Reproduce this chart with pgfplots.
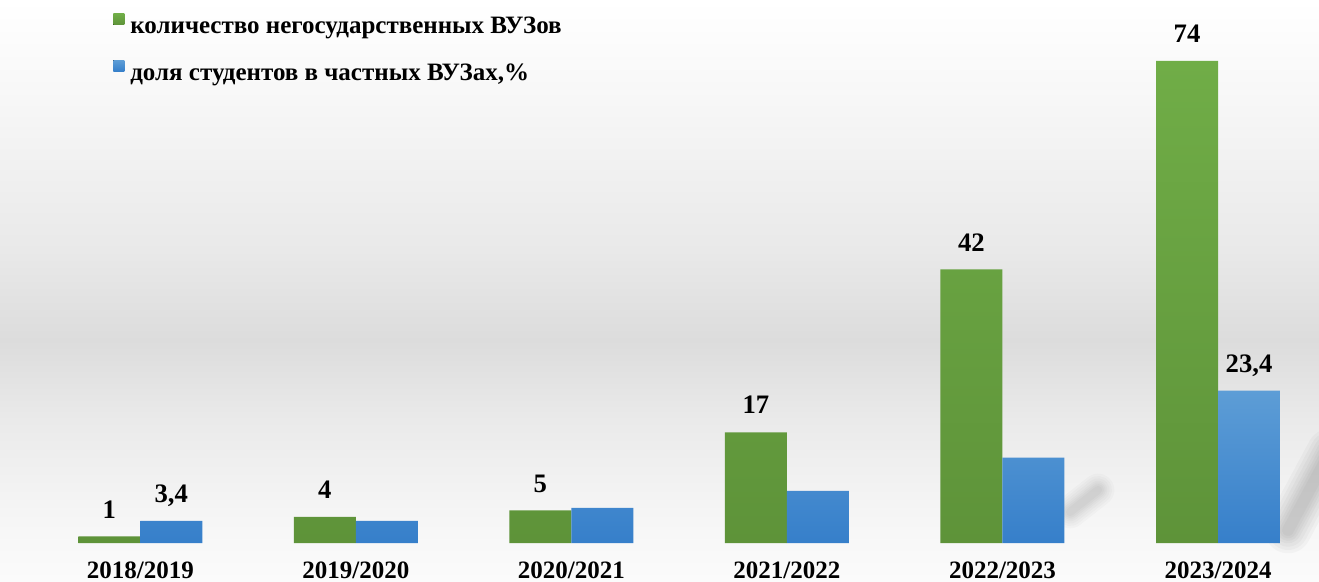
\documentclass[border=0pt]{standalone}
\usepackage{pgfplots}
\pgfplotsset{compat=1.18}
\usepackage{fontspec}
\setmainfont{Liberation Serif}
\definecolor{gtop}{RGB}{112,173,71}
\definecolor{gbot}{RGB}{94,147,57}
\definecolor{btop}{RGB}{93,157,214}
\definecolor{bbot}{RGB}{54,127,202}
\definecolor{bgA}{RGB}{255,255,255}
\definecolor{bgB}{RGB}{247,247,247}
\definecolor{bgC}{RGB}{233,233,233}
\definecolor{bgD}{RGB}{220,220,220}
\definecolor{bgE}{RGB}{234,234,234}
\definecolor{bgF}{RGB}{246,246,246}
\definecolor{bgG}{RGB}{251,251,251}
\begin{document}
\begin{tikzpicture}
\begin{scope}[xshift=-6.6pt,yshift=325.8pt,x=0.6pt,y=-0.6pt]
\shade[top color=bgA,bottom color=bgB] (0,0) rectangle (1319,100.5);
\shade[top color=bgB,bottom color=bgC] (0,100) rectangle (1319,250.5);
\shade[top color=bgC,bottom color=bgD] (0,250) rectangle (1319,340.5);
\shade[top color=bgD,bottom color=bgE] (0,340) rectangle (1319,420.5);
\shade[top color=bgE,bottom color=bgF] (0,420) rectangle (1319,520.5);
\shade[top color=bgF,bottom color=bgG] (0,520) rectangle (1319,581);
% soft shadow streaks
\foreach \w in {28pt,24pt,20pt,16pt,13pt,10pt,7pt}{
  \draw[line width=\w, black, opacity=0.026, line cap=round] (1288,530) -- (1330,452);
  \draw[line width=0.7*\w, black, opacity=0.02, line cap=round] (1070,512) -- (1098,490);
}
\end{scope}
\begin{axis}[
  scale only axis, width=782.4pt, height=325.8pt,
  xmin=-0.6, xmax=5.45, ymin=0, ymax=83.36,
  axis line style={draw=none}, tick style={draw=none},
  ytick=\empty, xtick={0,...,5},
  xticklabels={2018/2019,2019/2020,2020/2021,2021/2022,2022/2023,2023/2024},
  xticklabel style={font=\fontsize{15}{15}\selectfont\bfseries, anchor=base, inner sep=0pt, yshift=-17pt},
  ybar=0pt, bar width=37.2pt,
  nodes near coords, point meta=explicit symbolic,
  nodes near coords style={font=\fontsize{16}{16}\selectfont\bfseries, anchor=base, yshift=11pt, inner sep=0pt},
  legend cell align=left,
  legend image code/.code={\fill[#1] (0pt,1.8pt) rectangle (6.6pt,8.4pt); \path (10.2pt,2pt);},
  legend style={draw=none, fill=none, at={(rel axis cs:0,1)}, anchor=north west,
    xshift=61.2pt, yshift=-8.1pt, inner sep=0pt, row sep=12.6pt,
    font=\fontsize{15}{18}\selectfont\bfseries,
    nodes={inner sep=0pt, text height=10.5pt, text depth=3.3pt}},
]
\addplot[draw=none, top color=gtop, bottom color=gbot, shading=axis] coordinates {
 (0,1) [1] (1,4) [4] (2,5) [5] (3,17) [17] (4,42) [42] (5,74) [74]};
\addlegendentry{количество негосударственных ВУЗов}
\addplot[draw=none, top color=btop, bottom color=bbot, shading=axis] coordinates {
 (0,3.4) [{3,4}] (1,3.4) [] (2,5.4) [] (3,8.0) [] (4,13.1) [] (5,23.4) [{23,4}]};
\addlegendentry{доля студентов в частных ВУЗах,\%}
\end{axis}
\pgfresetboundingbox
\useasboundingbox (-6.6pt,-22.8pt) rectangle (784.8pt,325.8pt);
\end{tikzpicture}
\end{document}
